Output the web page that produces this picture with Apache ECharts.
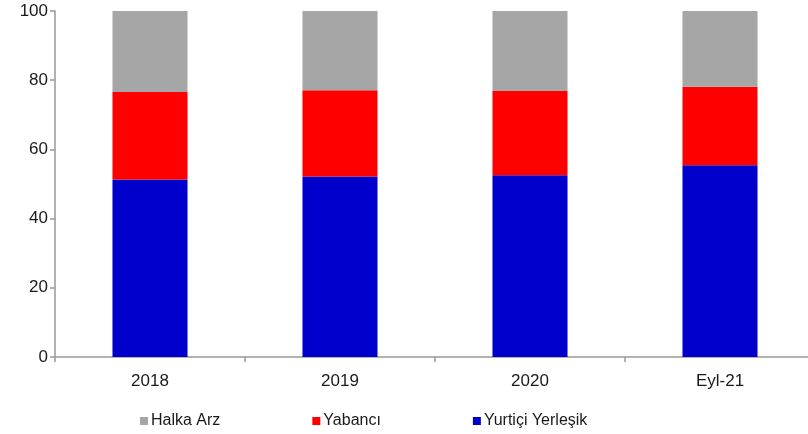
<!DOCTYPE html>
<html>
<head>
<meta charset="utf-8">
<script src="https://cdn.jsdelivr.net/npm/echarts@6/dist/echarts.min.js"></script>
<style>
  html, body { margin: 0; padding: 0; background: #fff; overflow: hidden; }
  #chart { width: 815px; height: 434px; }
</style>
</head>
<body>
<div id="chart"></div>
<script>
const categories = ['2018', '2019', '2020', 'Eyl-21']
const yurtici = [51.3, 52.2, 52.5, 55.4]
const yabanci = [25.3, 24.9, 24.4, 22.7]
const halkaArz = [23.4, 22.9, 23.1, 21.9]

const axisColor = '#999999'
const textStyle = { color: '#1a1a1a', fontFamily: 'Liberation Sans, Arial, sans-serif', fontSize: 17 }

// chart is a bit wider than the window: the last category runs off the right edge
const chart = echarts.init(document.getElementById('chart'))

const barSeries = (name, data, color) => ({
  name,
  type: 'bar',
  stack: 'total',
  barWidth: '39.5%',
  data,
  itemStyle: { color },
  emphasis: { disabled: true }
})

chart.setOption({
  animation: false,
  backgroundColor: '#ffffff',
  grid: { left: 55, top: 11, right: 0, bottom: 77 },
  legend: {
    data: ['Halka Arz', 'Yabancı', 'Yurtiçi Yerleşik'],
    left: 135,
    bottom: 0,
    itemWidth: 8,
    itemHeight: 8,
    itemGap: 92,
    icon: 'rect',
    textStyle: { ...textStyle, fontSize: 16, padding: [0, 0, 0, -2] }
  },
  xAxis: {
    type: 'category',
    data: categories,
    axisLine: { lineStyle: { color: axisColor, width: 1.5 } },
    axisTick: { show: true, length: 5, lineStyle: { color: axisColor, width: 1.5 } },
    axisLabel: { ...textStyle, margin: 16 }
  },
  yAxis: {
    type: 'value',
    min: 0,
    max: 100,
    interval: 20,
    axisLine: { show: true, lineStyle: { color: axisColor, width: 1.5 } },
    axisTick: { show: true, length: 5, lineStyle: { color: axisColor, width: 1.5 } },
    axisLabel: { ...textStyle, margin: 7 },
    splitLine: { show: false }
  },
  series: [
    barSeries('Yurtiçi Yerleşik', yurtici, '#0000cc'),
    barSeries('Yabancı', yabanci, '#ff0000'),
    barSeries('Halka Arz', halkaArz, '#a6a6a6')
  ]
})
</script>
</body>
</html>
